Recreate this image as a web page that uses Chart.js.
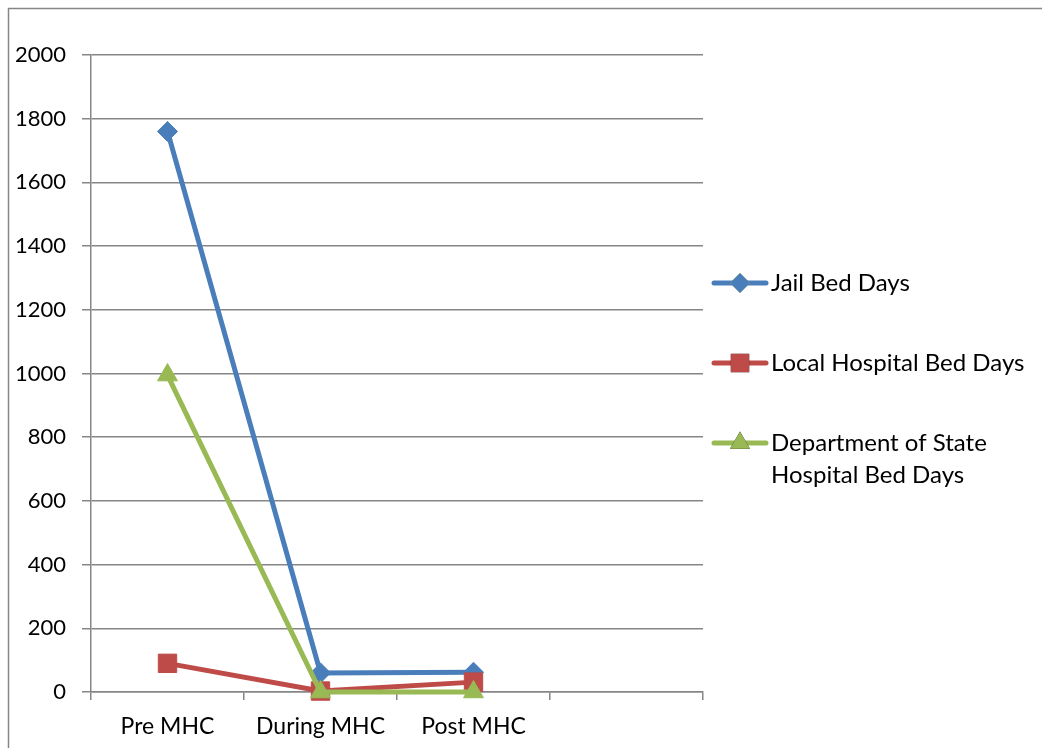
<!DOCTYPE html>
<html lang="en">
<head>
    <meta charset="UTF-8">
    <title>Bed Days</title>
    <script src="https://cdn.jsdelivr.net/npm/chart.js"></script>
    <style>
        html, body { margin: 0; padding: 0; background: #fff; }
        #wrap { width: 1042px; height: 748px; position: relative; }
    </style>
</head>
<body>
<div id="wrap"><canvas id="bedChart" width="1042" height="748"></canvas></div>
<script>
// categories (4th slot is empty in the original)
const categories = ['Pre MHC', 'During MHC', 'Post MHC', ''];
const jailBedDays = [1760, 60, 62, null];
const localHospitalBedDays = [90, 3, 31, null];
const stateHospitalBedDays = [995, 0, 0, null];
const yTicks = [0, 200, 400, 600, 800, 1000, 1200, 1400, 1600, 1800, 2000];

const FONT = 'Lato, "Open Sans", sans-serif';
const GRID = '#868686';

function series(label, data, color, style, radius, order) {
  return {
    label, data, order,
    borderColor: color, backgroundColor: color,
    borderWidth: 5, tension: 0, clip: false,
    pointStyle: style, pointRadius: radius, pointHoverRadius: radius,
    pointBorderWidth: 1, pointBorderColor: color, pointBackgroundColor: color
  };
}

// legend + outer frame drawn by hand so the long label can wrap
const extras = {
  id: 'extras',
  afterDraw(chart) {
    const ctx = chart.ctx;
    ctx.save();
    ctx.strokeStyle = GRID;
    ctx.lineWidth = 1.5;
    ctx.beginPath();
    ctx.moveTo(8.5, 748);
    ctx.lineTo(8.5, 8.5);
    ctx.lineTo(1042, 8.5);
    ctx.stroke();

    const rows = [
      { ds: 0, y: 283, lines: ['Jail Bed Days'] },
      { ds: 1, y: 363, lines: ['Local Hospital Bed Days'] },
      { ds: 2, y: 443, lines: ['Department of State', 'Hospital Bed Days'] }
    ];
    rows.forEach(r => {
      const d = chart.data.datasets[r.ds];
      ctx.strokeStyle = d.borderColor;
      ctx.lineWidth = 5;
      ctx.lineCap = 'round';
      ctx.beginPath();
      ctx.moveTo(714, r.y);
      ctx.lineTo(766, r.y);
      ctx.stroke();
      Chart.helpers.drawPoint(ctx, {
        pointStyle: d.pointStyle, radius: d.pointRadius, rotation: 0, borderWidth: 0
      }, 740, r.y);
      ctx.fillStyle = d.backgroundColor;
      ctx.fill();
      ctx.fillStyle = '#000';
      ctx.font = '24px ' + FONT;
      ctx.textBaseline = 'middle';
      ctx.textAlign = 'left';
      r.lines.forEach((t, i) => ctx.fillText(t, 771, r.y + i * 32));
    });
    ctx.restore();
  }
};

new Chart(document.getElementById('bedChart'), {
  type: 'line',
  data: {
    labels: categories,
    datasets: [
      series('Jail Bed Days', jailBedDays, '#4A7EBB', 'rectRot', 10, 2),
      series('Local Hospital Bed Days', localHospitalBedDays, '#BE4B48', 'rect', 13, 1),
      series('Department of State Hospital Bed Days', stateHospitalBedDays, '#98B954', 'triangle', 11.5, 0)
    ]
  },
  options: {
    responsive: false,
    animation: false,
    layout: { padding: { left: 0, right: 339, top: 55, bottom: 0 } },
    plugins: { legend: { display: false }, tooltip: { enabled: false } },
    scales: {
      x: {
        offset: true,
        afterFit: s => { s.height = 56; },
        grid: { offset: true, drawOnChartArea: false, drawTicks: true, tickLength: 8, color: GRID, lineWidth: 1.5 },
        border: { color: GRID, width: 1.5 },
        ticks: { color: '#000', font: { family: FONT, size: 23 }, padding: 13, autoSkip: false, maxRotation: 0 }
      },
      y: {
        min: 0, max: 2000,
        afterFit: s => { s.width = 91; },
        afterBuildTicks: s => { s.ticks = yTicks.map(v => ({ value: v })); },
        grid: { color: GRID, lineWidth: 1.5, tickLength: 9 },
        border: { color: GRID, width: 1.5 },
        ticks: { color: '#000', font: { family: FONT, size: 22 }, padding: 16, callback: v => String(v) }
      }
    }
  },
  plugins: [extras]
});
</script>
</body>
</html>
